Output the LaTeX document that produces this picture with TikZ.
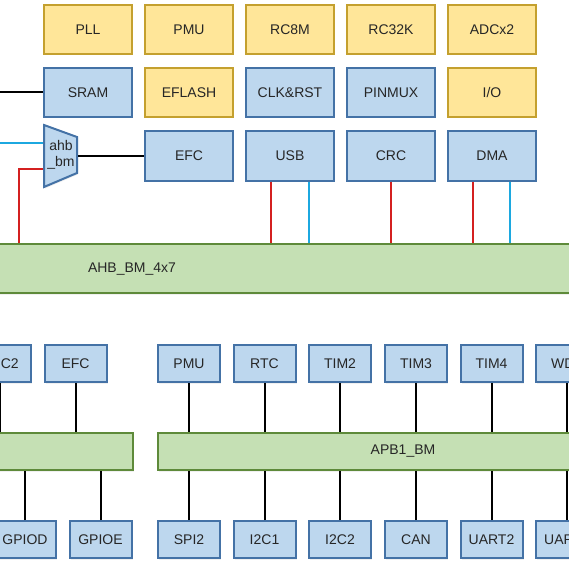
\documentclass[tikz,border=0pt]{standalone}
\usepackage{fontspec}
\setmainfont{Liberation Sans}
\usetikzlibrary{shadows,calc}
\definecolor{yfill}{HTML}{FFE699}
\definecolor{yline}{HTML}{C4A02E}
\definecolor{bfill}{HTML}{BDD7EE}
\definecolor{bline}{HTML}{4472A6}
\definecolor{gfill}{HTML}{C5E0B4}
\definecolor{gline}{HTML}{5E8A3A}
\definecolor{redw}{HTML}{D42020}
\definecolor{cyanw}{HTML}{1CA8E0}
\begin{document}
\begin{tikzpicture}[x=1bp,y=-1bp,
  every node/.style={font=\fontsize{14bp}{16bp}\selectfont, text=black!85},
  boxbase/.style={draw, line width=2bp, inner sep=0pt,
    drop shadow={opacity=0.12, shadow xshift=1.2bp, shadow yshift=-1.5bp}},
  ybox/.style={boxbase, fill=yfill, draw=yline, minimum width=88bp, minimum height=49bp},
  bbox/.style={boxbase, fill=bfill, draw=bline, minimum width=88bp, minimum height=49bp},
  sbox/.style={boxbase, fill=bfill, draw=bline, minimum width=62bp, minimum height=37bp},
  busbox/.style={boxbase, fill=gfill, draw=gline},
  lbl/.style={inner sep=0pt},
  wire/.style={line width=2bp, black},
  redwire/.style={line width=2bp, redw},
  cyanwire/.style={line width=2bp, cyanw}
]
\useasboundingbox (0,0) rectangle (569,570);
\clip (0,0) rectangle (569,570);

% ---- top block ----
\node[ybox] (pll)   at (88,29.5)  {PLL};
\node[ybox] (pmu)   at (189,29.5) {PMU};
\node[ybox] (rc8m)  at (290,29.5) {RC8M};
\node[ybox] (rc32k) at (391,29.5) {RC32K};
\node[ybox] (adc)   at (492,29.5) {ADCx2};

\node[bbox] (sram)   at (88,92.5)  {SRAM};
\node[ybox] (eflash) at (189,92.5) {EFLASH};
\node[bbox] (clk)    at (290,92.5) {CLK\&RST};
\node[bbox] (pinmux) at (391,92.5) {PINMUX};
\node[ybox] (io)     at (492,92.5) {I/O};

\node[bbox] (efc) at (189,156) {EFC};
\node[bbox] (usb) at (290,156) {USB};
\node[bbox] (crc) at (391,156) {CRC};
\node[bbox] (dma) at (492,156) {DMA};

% ahb_bm mux
\draw[boxbase, fill=bfill, draw=bline] (44,125) -- (77,137) -- (77,173) -- (44,187) -- cycle;
\node[lbl, align=center] (mux) at (61,155) {ahb\\\_bm};
\coordinate (muxL1) at (43,143);
\coordinate (muxL2) at (43,169);
\coordinate (muxR)  at (78,156);

% AHB bus
\node[busbox, minimum width=600bp, minimum height=49bp] (ahb) at (284,268.5) {};
\node[lbl] (ahblbl) at (132,269) {AHB\_BM\_4x7};

% left inputs
\coordinate (inSram) at (0,92.5);
\coordinate (inCyan) at (0,143);
\coordinate (redcorner) at (19,169);
\draw[wire] (inSram) -- (sram.west);
\draw[cyanwire] (inCyan) -- (muxL1);
\draw[redwire] (muxL2) -- (redcorner) -- (redcorner |- ahb.north);
\draw[wire] (muxR) -- (muxR -| efc.west);

% masters/slaves to AHB
\draw[redwire]  ([xshift=-19bp]usb.south) -- ([xshift=-19bp]usb.south |- ahb.north);
\draw[cyanwire] ([xshift=19bp]usb.south) -- ([xshift=19bp]usb.south |- ahb.north);
\draw[redwire]  (crc.south) -- (crc.south |- ahb.north);
\draw[redwire]  ([xshift=-19bp]dma.south) -- ([xshift=-19bp]dma.south |- ahb.north);
\draw[cyanwire] ([xshift=18bp]dma.south) -- ([xshift=18bp]dma.south |- ahb.north);

% ---- bottom block ----
\node[busbox, minimum width=142bp, minimum height=37bp] (apb2) at (62,451.5) {};
\node[busbox, minimum width=422bp, minimum height=37bp] (apb1) at (369,451.5) {};
\node[lbl] (apb1lbl) at (403,451) {APB1\_BM};

\node[sbox] (adc2)  at (0,363.5)   {ADC2};
\node[sbox] (efc2)  at (75.5,363.5) {EFC};
\node[sbox] (pmu2)  at (189,363.5) {PMU};
\node[sbox] (rtc)   at (264.5,363.5) {RTC};
\node[sbox] (tim2)  at (340,363.5) {TIM2};
\node[sbox] (tim3)  at (416,363.5) {TIM3};
\node[sbox] (tim4)  at (491.5,363.5) {TIM4};
\node[sbox] (wdt)   at (567,363.5) {WDT};

\node[sbox] (gpiod) at (25,539.5)  {GPIOD};
\node[sbox] (gpioe) at (100.5,539.5) {GPIOE};
\node[sbox] (spi2)  at (189,539.5) {SPI2};
\node[sbox] (i2c1)  at (264.5,539.5) {I2C1};
\node[sbox] (i2c2)  at (340,539.5) {I2C2};
\node[sbox] (can)   at (416,539.5) {CAN};
\node[sbox] (uart2) at (491.5,539.5) {UART2};
\node[sbox] (uart1) at (567,539.5) {UART1};

\foreach \n in {adc2,efc2} {\draw[wire] (\n.south) -- (\n.south |- apb2.north);}
\foreach \n in {gpiod,gpioe} {\draw[wire] (\n.north) -- (\n.north |- apb2.south);}
\foreach \n in {pmu2,rtc,tim2,tim3,tim4,wdt} {\draw[wire] (\n.south) -- (\n.south |- apb1.north);}
\foreach \n in {spi2,i2c1,i2c2,can,uart2,uart1} {\draw[wire] (\n.north) -- (\n.north |- apb1.south);}
\end{tikzpicture}
\end{document}
